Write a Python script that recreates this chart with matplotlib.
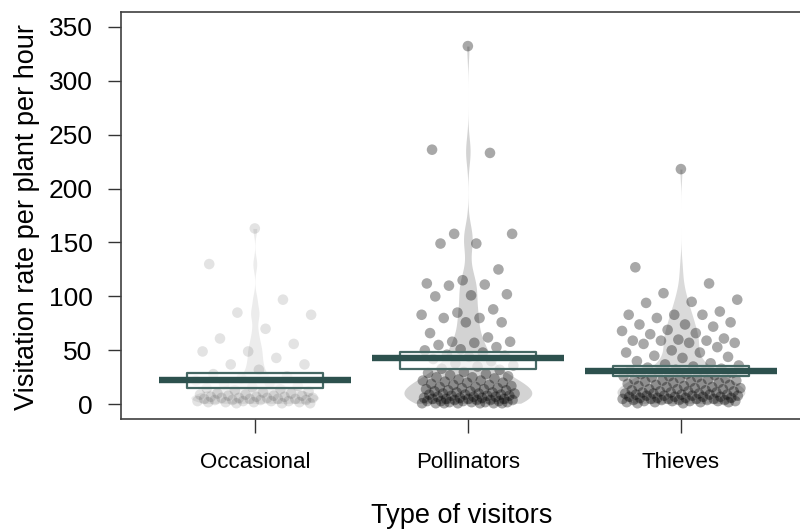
import numpy as np
import matplotlib
matplotlib.use('Agg')
import matplotlib.pyplot as plt

plt.rcParams['font.family'] = ['Liberation Sans', 'DejaVu Sans']

# ---------------- data ----------------
categories = ['Occasional', 'Pollinators', 'Thieves']

occasional = [163, 130, 97, 85, 83, 70, 61, 56, 49, 49, 43, 37, 37, 32,
              28, 26, 24, 22, 20, 19, 17, 16, 15, 14, 13, 12, 11,
              10, 10, 9, 9, 8, 8, 8, 7, 7, 7, 6, 6, 6, 6, 5, 5, 5, 5,
              4, 4, 4, 4, 3, 3, 3, 3, 2, 2, 2, 2, 1, 1, 1]

pollinators = [332, 236, 233, 158, 158, 149, 149, 125, 115, 112, 111, 110,
               102, 101, 100, 88, 85, 83, 80, 80, 76, 76, 66, 62, 58, 58, 57, 55,
               53, 51, 50, 48, 46, 45, 44, 42, 40, 38, 36, 35, 33, 32,
               30, 29, 28, 27, 26, 25, 25, 24, 23, 22, 22, 21, 20, 20, 19, 18,
               18, 17, 16, 16, 15, 15, 14, 14, 13, 13, 12, 12, 11, 11, 10, 10,
               10, 9, 9, 9, 8, 8, 8, 7, 7, 7, 6, 6, 6, 5, 5, 5, 5, 4, 4, 4, 4,
               3, 3, 3, 3, 2, 2, 2, 2, 1, 1, 1, 1, 1, 1, 1]

thieves = [218, 127, 112, 103, 97, 95, 94, 86, 83, 83, 83, 80, 76, 74, 74,
           72, 69, 68, 66, 65, 61, 60, 59, 59, 59, 57, 57, 56, 53, 50, 48,
           48, 45, 44, 43,
           40, 38, 37, 36, 35, 34, 33, 32, 31, 30, 30, 29, 28, 28, 27, 26,
           26, 25, 25, 24, 24, 23, 23, 22, 22, 21, 21, 20, 20, 19, 19, 18,
           18, 17, 17, 16, 16, 15, 15, 14, 14, 14, 13, 13, 12, 12, 12, 11,
           11, 11, 10, 10, 10, 9, 9, 9, 9, 8, 8, 8, 8, 7, 7, 7, 7, 6, 6, 6,
           6, 5, 5, 5, 5, 5, 4, 4, 4, 4, 4, 3, 3, 3, 3, 3, 2, 2, 2, 2, 1, 1]

means = [22.2, 42.6, 30.6]
band_low = [15.1, 32.4, 26.5]
band_high = [29.0, 48.8, 35.2]

yticks = [0, 50, 100, 150, 200, 250, 300, 350]

# ---------------- styling ----------------
groups = [occasional, pollinators, thieves]
bean_colors = ['#ececec', '#d3d3d3', '#dadada']
point_alpha = [0.11, 0.34, 0.34]
jitter_w = [0.28, 0.22, 0.28]
mean_col = '#2d514e'
band_col = '#466965'

fig = plt.figure(figsize=(8.0, 5.31), dpi=100)
ax = fig.add_axes([121 / 800, 112 / 531, 692 / 800, 407 / 531])

def kde(vals, grid):
    v = np.asarray(vals, float)
    n = len(v)
    sd = v.std(ddof=1)
    iqr = np.subtract(*np.percentile(v, [75, 25]))
    bw = 0.9 * min(sd, iqr / 1.34) * n ** (-0.2)
    d = np.exp(-0.5 * ((grid[:, None] - v[None, :]) / bw) ** 2).sum(axis=1)
    return d

phi = 0.6180339887
for i, vals in enumerate(groups):
    x0 = i + 1
    v = np.asarray(vals, float)
    grid = np.linspace(v.min(), v.max(), 600)
    d = kde(v, grid)
    half = 0.30 * d / d.max()
    ax.fill_betweenx(grid, x0 - half, x0 + half, color=bean_colors[i],
                     lw=0, zorder=1)
    idx = np.arange(len(v))
    # deterministic golden-ratio jitter
    off = (((idx * phi) + 0.5) % 1.0 - 0.5) * 2 * jitter_w[i]
    ax.scatter(x0 + off, v, s=58, color='black', alpha=point_alpha[i],
               edgecolors='none', zorder=2)
    ax.fill_between([x0 - 0.32, x0 + 0.32], band_low[i], band_high[i],
                    facecolor=(1, 1, 1, 0.75), edgecolor=band_col, lw=1.6,
                    zorder=3)
    ax.plot([x0 - 0.45, x0 + 0.45], [means[i], means[i]], color=mean_col,
            lw=4.6, solid_capstyle='butt', zorder=4)

ax.set_xlim(0.372, 3.62)
ax.set_ylim(-13.6, 363.6)
ax.set_yticks(yticks)
ax.set_yticklabels([str(t) for t in yticks], fontsize=19)
ax.set_xticks([1, 2, 3])
ax.set_xticklabels(categories, fontsize=16)
ax.tick_params(axis='y', direction='out', length=9.5, width=1.0,
               color='#333333', pad=11)
ax.tick_params(axis='x', direction='out', length=10, width=1.0,
               color='#333333', pad=14)
for s in ax.spines.values():
    s.set_color('#404040')
    s.set_linewidth(1.2)

fig.text(27 / 800, 1 - 217 / 531, 'Visitation rate per plant per hour',
         rotation=90, ha='center', va='center', fontsize=19.5)
fig.text(462 / 800, 1 - 516 / 531, 'Type of visitors', ha='center',
         va='center', fontsize=19.5)

fig.savefig('out.png', dpi=100)
